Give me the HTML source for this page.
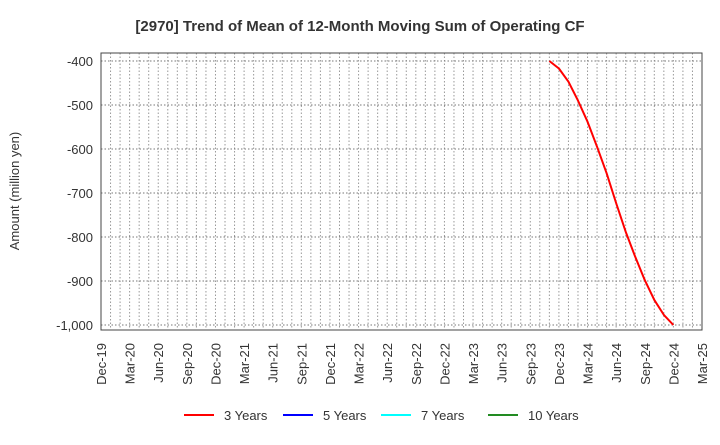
<!DOCTYPE html>
<html><head><meta charset="utf-8"><style>
body{margin:0;background:#fff;font-family:"Liberation Sans",Arial,sans-serif}
svg text{font-family:"Liberation Sans",Arial,sans-serif}
</style></head><body>
<svg width="720" height="440" xmlns="http://www.w3.org/2000/svg" id="chart">
<text x="360" y="31" text-anchor="middle" font-size="15" font-weight="bold" fill="#333">[2970]  Trend of Mean of 12-Month Moving Sum of Operating CF</text>
<text transform="translate(19,191) rotate(-90)" text-anchor="middle" font-size="13" fill="#333">Amount (million yen)</text>
<g id="grid"></g><g id="yt"></g><g id="xt"></g><g id="series"></g>
<rect x="101" y="53" width="601" height="277" fill="none" stroke="#444" stroke-width="1"/>
<g id="legend"></g>
</svg>
<script>
const xLabels=["Dec-19","Mar-20","Jun-20","Sep-20","Dec-20","Mar-21","Jun-21","Sep-21","Dec-21","Mar-22","Jun-22","Sep-22","Dec-22","Mar-23","Jun-23","Sep-23","Dec-23","Mar-24","Jun-24","Sep-24","Dec-24","Mar-25"];
const yTicks=[-400,-500,-600,-700,-800,-900,-1000];
const series3StartMonth=47; // Nov-23 as month index from Dec-19
const series3=[-400,-417,-447,-490,-538,-595,-655,-723,-788,-845,-898,-943,-977,-1000];
const legendNames=["3 Years","5 Years","7 Years","10 Years"];
const legendColors=["#ff0000","#0000ff","#00ffff","#228b22"];
const NS="http://www.w3.org/2000/svg";
const L=101,R=702,T=53,B=330;
const x=m=>L+(R-L)*m/63;
const y=v=>61+(v+400)*(325-61)/(-600);
function mk(t,a,p){const e=document.createElementNS(NS,t);for(const k in a)e.setAttribute(k,a[k]);p.appendChild(e);return e;}
const g=document.getElementById('grid');
for(let m=1;m<63;m++){const l=mk('line',{x1:x(m),x2:x(m),y1:T,y2:B,stroke:'#999','stroke-dasharray':'1.5,2','stroke-width':1},g);

}
const yt=document.getElementById('yt');
yTicks.forEach(v=>{const l=mk('line',{x1:L,x2:R,y1:y(v),y2:y(v),stroke:'#777','stroke-dasharray':'1.5,2','stroke-width':1},g);


const t=mk('text',{x:93,y:y(v)+5,'text-anchor':'end','font-size':13,fill:'#333'},yt);
t.textContent=v.toLocaleString('en-US');

});
const xt=document.getElementById('xt');
xLabels.forEach((s,i)=>{const px=x(i*3);const t=mk('text',{transform:`translate(${px+5},343) rotate(-90)`,'text-anchor':'end','font-size':13,fill:'#333'},xt);
t.textContent=s;

});
const pts=series3.map((v,i)=>x(series3StartMonth+i)+','+y(v)).join(' ');
const pl=mk('polyline',{points:pts,fill:'none',stroke:'#ff0000','stroke-width':2,'stroke-linejoin':'round'},document.getElementById('series'));


const lg=document.getElementById('legend');
const lx=[184,283,381,488];
legendNames.forEach((n,i)=>{const gg=mk('g',{},lg);


mk('line',{x1:lx[i],x2:lx[i]+30,y1:415,y2:415,stroke:legendColors[i],'stroke-width':2},gg);
const t=mk('text',{x:lx[i]+40,y:420,'font-size':13,fill:'#333'},gg);t.textContent=n;});
</script>
</body></html>
